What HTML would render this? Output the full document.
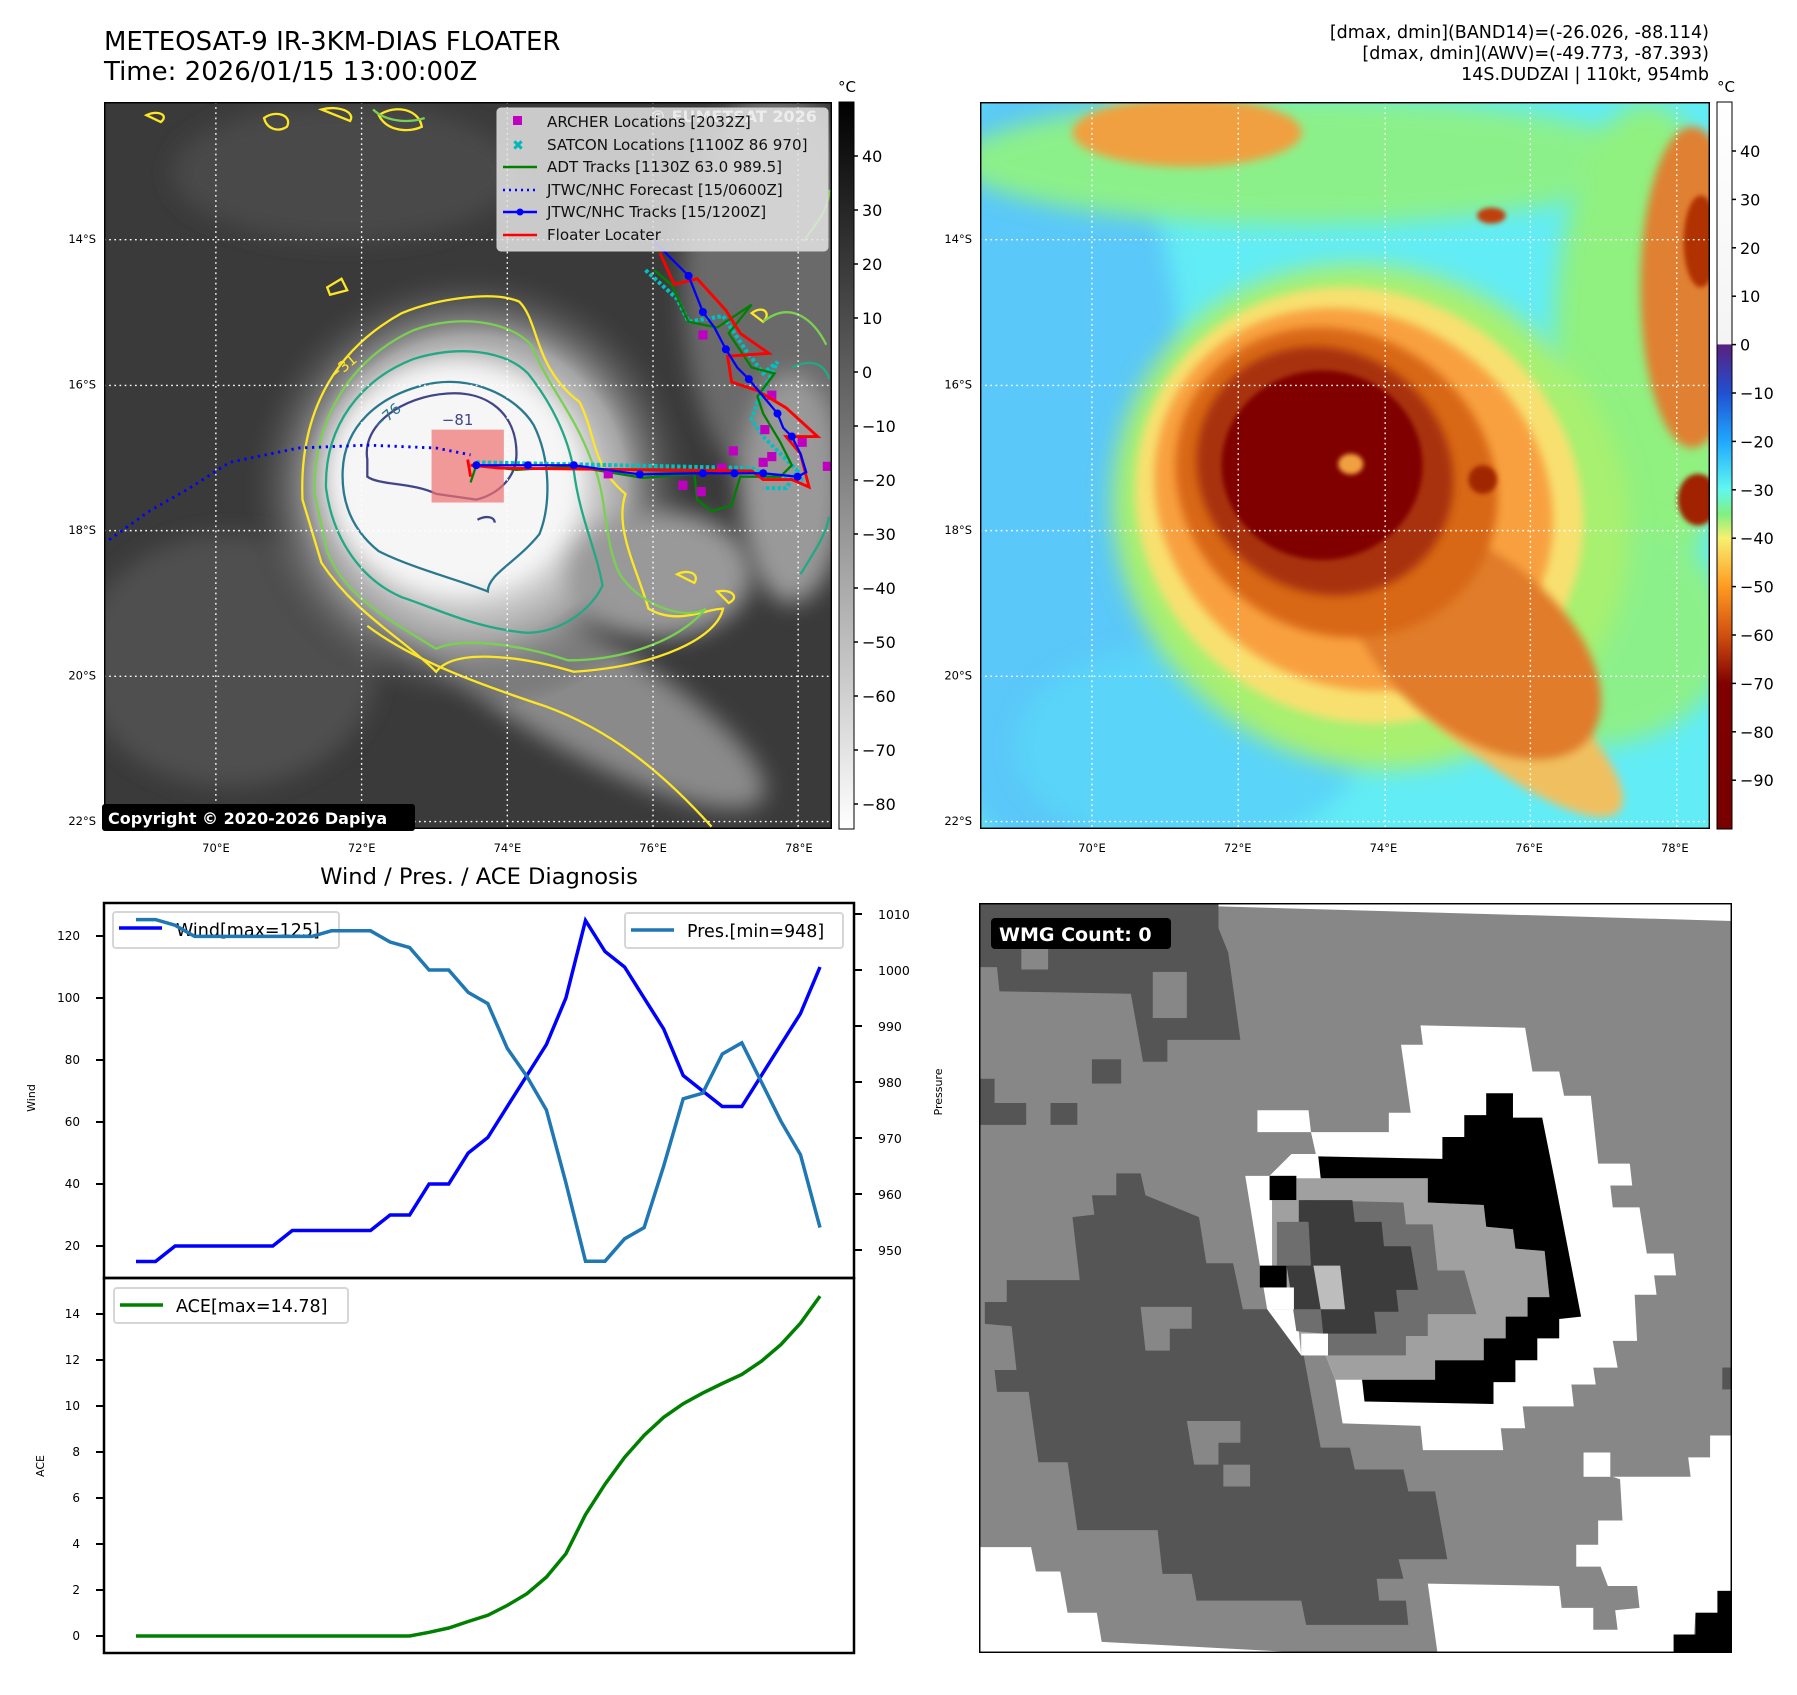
<!DOCTYPE html>
<html><head><meta charset="utf-8">
<style>
html,body{margin:0;padding:0;background:#fff;}
svg text{font-family:"DejaVu Sans","Liberation Sans",sans-serif;}
</style></head>
<body>
<svg id="page" width="1797" height="1690" viewBox="0 0 1797 1690" xmlns="http://www.w3.org/2000/svg">
<defs>
  <filter id="blur8" x="-30%" y="-30%" width="160%" height="160%"><feGaussianBlur stdDeviation="8"/></filter>
  <filter id="blur20" x="-30%" y="-30%" width="160%" height="160%"><feGaussianBlur stdDeviation="20"/></filter>
  <filter id="blur4" x="-30%" y="-30%" width="160%" height="160%"><feGaussianBlur stdDeviation="4"/></filter>
  <radialGradient id="cloudG" cx="0.5" cy="0.5" r="0.5">
    <stop offset="0" stop-color="#ffffff"/><stop offset="0.4" stop-color="#eeeeee"/>
    <stop offset="0.68" stop-color="#a5a5a5"/><stop offset="1" stop-color="#3c3c3c" stop-opacity="0"/>
  </radialGradient>
  <linearGradient id="cbGray" x1="0" y1="0" x2="0" y2="1">
    <stop offset="0" stop-color="#000"/><stop offset="1" stop-color="#fff"/>
  </linearGradient>
  <linearGradient id="cbColor" x1="0" y1="0" x2="0" y2="1">
    <stop offset="0" stop-color="#ffffff"/><stop offset="0.333" stop-color="#f4f4f4"/>
    <stop offset="0.334" stop-color="#5a2080"/><stop offset="0.40" stop-color="#2050d0"/>
    <stop offset="0.467" stop-color="#20a8ff"/><stop offset="0.533" stop-color="#60f8f0"/>
    <stop offset="0.567" stop-color="#80f080"/><stop offset="0.60" stop-color="#f8f070"/>
    <stop offset="0.667" stop-color="#ff9a20"/><stop offset="0.733" stop-color="#d05010"/>
    <stop offset="0.80" stop-color="#800000"/><stop offset="1" stop-color="#780000"/>
  </linearGradient>
  <clipPath id="clipL"><rect x="181" y="177" width="1269" height="1267"/></clipPath>
  <clipPath id="clipR"><rect x="139" y="177" width="1272" height="1267"/></clipPath>
</defs>

<!-- Titles -->
<text x="104" y="50" font-size="26">METEOSAT-9 IR-3KM-DIAS FLOATER</text>
<text x="104" y="80" font-size="26">Time: 2026/01/15 13:00:00Z</text>
<g font-size="17.5" text-anchor="end">
  <text x="1709" y="38">[dmax, dmin](BAND14)=(-26.026, -88.114)</text>
  <text x="1709" y="59">[dmax, dmin](AWV)=(-49.773, -87.393)</text>
  <text x="1709" y="80">14S.DUDZAI | 110kt, 954mb</text>
</g>

<!-- LEFT MAP -->
<svg x="104" y="102" width="728" height="727" viewBox="181 177 1269 1267" preserveAspectRatio="none">
  <g clip-path="url(#clipL)">
    <rect x="181" y="177" width="1269" height="1267" fill="#3a3a3a"/>
    <ellipse cx="1350" cy="500" rx="160" ry="350" fill="#6a6a6a" filter="url(#blur20)"/>
    <ellipse cx="600" cy="300" rx="300" ry="120" fill="#4a4a4a" filter="url(#blur20)"/>
    <ellipse cx="400" cy="1150" rx="260" ry="220" fill="#505050" filter="url(#blur20)"/>
    <ellipse cx="1000" cy="1200" rx="380" ry="100" transform="rotate(30 1000 1200)" fill="#8a8a8a" filter="url(#blur20)"/>
    <ellipse cx="820" cy="850" rx="400" ry="390" fill="url(#cloudG)"/>
    <ellipse cx="790" cy="830" rx="220" ry="200" fill="#f6f6f6" filter="url(#blur20)"/>
    <ellipse cx="1150" cy="1000" rx="160" ry="110" fill="#999" filter="url(#blur20)"/>
    <ellipse cx="1380" cy="850" rx="90" ry="200" fill="#999" filter="url(#blur20)"/>
    <g fill="none" stroke-width="4">
      <path stroke="#fde725" d="M527,870 C520,700 600,600 700,545 C760,520 860,505 905,525 C940,560 930,640 1010,700 C1040,760 1030,810 1090,860 C1070,920 1110,990 1130,1060 C1180,1090 1230,1060 1260,1060 C1250,1110 1150,1160 1000,1170 C900,1140 790,1130 760,1170 C700,1110 620,1070 560,980 Z"/>
      <path stroke="#fde725" d="M640,1090 C720,1150 830,1190 950,1230 C1060,1270 1150,1340 1240,1440"/>
      <path stroke="#fde725" d="M570,500 l25,-15 l10,20 l-30,8 Z M255,200 c20,-10 40,0 25,12 Z M460,205 c20,-15 50,-5 40,15 c-15,10 -35,5 -40,-15 Z M560,190 c30,-8 60,5 50,20 Z M660,200 c30,-20 70,-10 75,20 c-20,10 -60,10 -75,-20 Z M1180,1000 c20,-10 40,0 30,15 Z M1250,1030 c25,-5 40,10 20,20 Z M1310,545 c20,-15 35,0 20,15 Z"/>
      <path stroke="#7ad151" d="M548,860 C545,720 620,620 720,575 C800,545 890,560 925,600 C960,680 1000,720 1030,800 C1060,860 1050,940 1080,1000 C1120,1060 1200,1080 1230,1060 C1180,1120 1080,1150 990,1150 C900,1120 800,1110 760,1130 C680,1080 600,1040 570,960 Z"/>
      <path stroke="#7ad151" d="M1330,560 C1380,520 1420,560 1440,600 M1400,420 C1430,380 1445,360 1445,330 M650,190 c20,20 60,25 90,15"/>
      <path stroke="#22a884" d="M568,850 C565,740 630,660 720,625 C800,600 880,610 920,650 C960,700 990,760 1000,820 C1010,900 1040,960 1050,1020 C1020,1080 950,1110 900,1100 C820,1090 760,1060 700,1040 C630,1010 580,940 568,850 Z"/>
      <path stroke="#22a884" d="M1395,1000 C1420,960 1440,930 1445,900 M1380,640 C1420,620 1440,640 1445,660"/>
      <path stroke="#2a788e" d="M597,820 C600,740 660,690 740,670 C820,650 900,690 930,740 C960,800 960,880 940,930 C900,980 850,1000 850,1030 C800,1010 720,990 660,960 C610,920 595,870 597,820 Z"/>
      <path stroke="#414487" d="M640,800 C630,740 700,690 780,685 C850,680 900,720 900,790 C900,830 870,860 830,870 L760,860 C720,840 660,845 640,830 Z"/>
      <path stroke="#414487" d="M832,905 c15,-8 30,-5 30,5"/>
    </g>
    <g font-size="26" fill="#2a788e">
      <text x="650" y="745" transform="rotate(-40 660 735)">−76</text>
    </g>
    <text x="770" y="740" font-size="26" fill="#414487">−81</text>
    <text x="575" y="655" font-size="26" fill="#fde725" transform="rotate(-40 590 650)">−31</text>
    <g stroke="#fff" stroke-width="2.4" stroke-dasharray="3 6" fill="none">
      <line x1="376" y1="177" x2="376" y2="1444"/><line x1="630" y1="177" x2="630" y2="1444"/>
      <line x1="884" y1="177" x2="884" y2="1444"/><line x1="1138" y1="177" x2="1138" y2="1444"/>
      <line x1="1391" y1="177" x2="1391" y2="1444"/>
      <line x1="181" y1="417" x2="1450" y2="417"/><line x1="181" y1="671" x2="1450" y2="671"/>
      <line x1="181" y1="924" x2="1450" y2="924"/><line x1="181" y1="1178" x2="1450" y2="1178"/>
      <line x1="181" y1="1431" x2="1450" y2="1431"/>
    </g>
    <rect x="752" y="748" width="126" height="127" fill="#f07070" fill-opacity="0.7"/>
    <path d="M190,940 L260,890 L330,850 L400,805 L520,780 L640,775 L760,780 L820,792" fill="none" stroke="#0000ff" stroke-width="5" stroke-dasharray="4 8"/>
    <g fill="none" stroke="#00c0c0" stroke-width="7" stroke-dasharray="6 4">
      <path d="M830,805 L1310,815 L1340,830 L1400,835 M1125,470 L1180,520 L1200,560 L1260,550 L1300,610 L1330,650 L1355,630 L1320,700 L1310,730 L1330,760 L1360,790 L1390,820 L1370,850 L1330,850"/>
    </g>
    <path d="M820,840 L830,810 L900,818 L1000,812 L1120,832 L1210,825 L1215,870 L1240,890 L1275,880 L1290,830 L1360,830 L1380,810 L1360,770 L1330,720 L1320,690 L1350,650 L1310,640 L1270,580 L1310,530 L1250,570 L1200,560 L1170,495 L1140,470" fill="none" stroke="#008000" stroke-width="4"/>
    <g fill="#c000c0">
      <rect x="1217" y="575" width="16" height="16"/><rect x="1337" y="680" width="16" height="16"/>
      <rect x="1325" y="740" width="16" height="16"/><rect x="1270" y="777" width="16" height="16"/>
      <rect x="1250" y="807" width="16" height="16"/><rect x="1337" y="787" width="16" height="16"/>
      <rect x="1322" y="797" width="16" height="16"/><rect x="1052" y="817" width="16" height="16"/>
      <rect x="1182" y="837" width="16" height="16"/><rect x="1214" y="848" width="16" height="16"/>
      <rect x="1390" y="762" width="16" height="16"/><rect x="1434" y="804" width="16" height="16"/>
    </g>
    <path d="M815,800 L820,830 M820,810 L870,815 L1310,820 L1330,835 L1380,835 L1410,848 L1395,790 L1370,760 L1425,760 L1370,710 L1320,680 L1275,665 L1268,620 L1340,615 L1290,580 L1265,540 L1215,485 L1175,495 L1150,440" fill="none" stroke="#ff0000" stroke-width="5"/>
    <g>
      <path d="M830,810 L920,810 L1000,810 L1115,826 L1225,824 L1280,824 L1330,824 L1390,830 L1405,822 L1395,790 L1380,760 L1365,745 L1355,720 L1330,690 L1305,660 L1285,640 L1265,608 L1245,570 L1225,543 L1200,480 L1165,445 L1140,420" fill="none" stroke="#0000ff" stroke-width="4"/>
      <g fill="#0000ff">
        <circle cx="830" cy="810" r="7"/><circle cx="920" cy="810" r="7"/><circle cx="1000" cy="810" r="7"/>
        <circle cx="1115" cy="826" r="7"/><circle cx="1225" cy="824" r="7"/><circle cx="1280" cy="824" r="7"/>
        <circle cx="1330" cy="824" r="7"/><circle cx="1390" cy="830" r="7"/><circle cx="1380" cy="760" r="7"/>
        <circle cx="1355" cy="720" r="7"/><circle cx="1305" cy="660" r="7"/><circle cx="1265" cy="608" r="7"/>
        <circle cx="1225" cy="543" r="7"/><circle cx="1200" cy="480" r="7"/>
      </g>
    </g>
  </g>
  <rect x="181" y="177" width="1269" height="1267" fill="none" stroke="#000" stroke-width="5"/>
</svg>

<g>
  <rect x="497" y="108" width="331" height="143" rx="4" fill="#e4e4e4" fill-opacity="0.85" stroke="#d0d0d0"/>
  <text x="650" y="122" font-size="16" font-weight="bold" fill="#ffffff" fill-opacity="0.6">© EUMETSAT 2026</text>
  <rect x="513" y="116" width="9" height="9" fill="#c000c0"/>
  <text x="518" y="150" font-size="14" fill="#00b8b8" text-anchor="middle" font-weight="bold">✖</text>
  <line x1="503" y1="167" x2="537" y2="167" stroke="#008000" stroke-width="2.5"/>
  <line x1="503" y1="190" x2="537" y2="190" stroke="#0000ff" stroke-width="2.5" stroke-dasharray="2 4"/>
  <line x1="503" y1="212" x2="537" y2="212" stroke="#0000ff" stroke-width="2.5"/><circle cx="520" cy="212" r="3.5" fill="#0000ff"/>
  <line x1="503" y1="235" x2="537" y2="235" stroke="#ff0000" stroke-width="2.5"/>
  <g font-size="15.1" fill="#111">
    <text x="547" y="127">ARCHER Locations [2032Z]</text>
    <text x="547" y="150">SATCON Locations [1100Z 86 970]</text>
    <text x="547" y="172">ADT Tracks [1130Z 63.0 989.5]</text>
    <text x="547" y="195">JTWC/NHC Forecast [15/0600Z]</text>
    <text x="547" y="217">JTWC/NHC Tracks [15/1200Z]</text>
    <text x="547" y="240">Floater Locater</text>
  </g>
</g>
<g>
  <rect x="102" y="804" width="313" height="27" rx="3" fill="#000"/>
  <text x="108" y="824" font-size="16" font-weight="bold" fill="#fff">Copyright © 2020-2026 Dapiya</text>
</g>

<g>
  <rect x="839" y="102" width="15" height="727" fill="url(#cbGray)" stroke="#000" stroke-width="1"/>
  <text x="847" y="92" font-size="15" text-anchor="middle">°C</text>
  <g id="cbLticks" font-size="16"></g>
</g>

<svg x="980" y="102" width="730" height="727" viewBox="139 177 1272 1267" preserveAspectRatio="none">
  <g clip-path="url(#clipR)">
    <rect x="139" y="177" width="1272" height="1267" fill="#62ecf5"/>
    <ellipse cx="250" cy="800" rx="250" ry="700" fill="#5ac8f8" filter="url(#blur20)"/>
    <ellipse cx="500" cy="1300" rx="300" ry="180" fill="#5ad4f8" filter="url(#blur20)"/>
    <ellipse cx="700" cy="280" rx="600" ry="110" fill="#8cf08a" filter="url(#blur20)"/>
    <ellipse cx="1300" cy="600" rx="160" ry="420" fill="#90f080" filter="url(#blur20)"/>
    <ellipse cx="1200" cy="1100" rx="250" ry="200" fill="#8cf08a" filter="url(#blur20)"/>
    <ellipse cx="500" cy="230" rx="200" ry="60" fill="#f0a040" filter="url(#blur8)"/>
    <ellipse cx="1380" cy="500" rx="90" ry="280" fill="#e08030" filter="url(#blur8)"/>
    <ellipse cx="1390" cy="870" rx="35" ry="45" fill="#a02000" filter="url(#blur4)"/>
    <ellipse cx="1395" cy="420" rx="30" ry="80" fill="#b03000" filter="url(#blur4)"/>
    <ellipse cx="1030" cy="375" rx="25" ry="14" fill="#c04010" filter="url(#blur4)"/>
    <ellipse cx="820" cy="900" rx="460" ry="430" transform="rotate(35 820 900)" fill="#a8f070" filter="url(#blur20)"/>
    <ellipse cx="800" cy="880" rx="400" ry="370" transform="rotate(35 800 880)" fill="#f8e070" filter="url(#blur8)"/>
    <ellipse cx="1000" cy="1200" rx="330" ry="90" transform="rotate(40 1000 1200)" fill="#f0c060" filter="url(#blur8)"/>
    <ellipse cx="790" cy="870" rx="360" ry="320" transform="rotate(35 790 870)" fill="#f8a040" filter="url(#blur8)"/>
    <ellipse cx="1000" cy="1120" rx="260" ry="150" transform="rotate(40 1000 1120)" fill="#e07c2a" filter="url(#blur8)"/>
    <ellipse cx="760" cy="840" rx="290" ry="260" transform="rotate(35 760 840)" fill="#d86818" filter="url(#blur8)"/>
    <ellipse cx="740" cy="820" rx="230" ry="210" transform="rotate(35 740 820)" fill="#a83008" filter="url(#blur8)"/>
    <ellipse cx="735" cy="810" rx="175" ry="165" fill="#800000" filter="url(#blur4)"/>
    <ellipse cx="785" cy="808" rx="22" ry="18" fill="#f0a040" filter="url(#blur4)"/>
    <ellipse cx="1015" cy="835" rx="25" ry="25" fill="#a02800" filter="url(#blur4)"/>
    <g stroke="#fff" stroke-width="2.4" stroke-dasharray="3 6" fill="none">
      <line x1="334" y1="177" x2="334" y2="1444"/><line x1="589" y1="177" x2="589" y2="1444"/>
      <line x1="845" y1="177" x2="845" y2="1444"/><line x1="1098" y1="177" x2="1098" y2="1444"/>
      <line x1="1353" y1="177" x2="1353" y2="1444"/>
      <line x1="139" y1="417" x2="1411" y2="417"/><line x1="139" y1="671" x2="1411" y2="671"/>
      <line x1="139" y1="924" x2="1411" y2="924"/><line x1="139" y1="1178" x2="1411" y2="1178"/>
      <line x1="139" y1="1431" x2="1411" y2="1431"/>
    </g>
  </g>
  <rect x="139" y="177" width="1272" height="1267" fill="none" stroke="#000" stroke-width="5"/>
</svg>
<g>
  <rect x="1717" y="102" width="15" height="727" fill="url(#cbColor)" stroke="#000" stroke-width="1"/>
  <text x="1726" y="92" font-size="15" text-anchor="middle">°C</text>
  <g id="cbRticks" font-size="16"></g>
</g>

<g id="mapLabels" font-size="11.5" fill="#000"></g>

<svg x="979" y="903" width="753" height="750" viewBox="8 8 1547 1545" preserveAspectRatio="none">
  <rect x="8" y="8" width="1547" height="1545" fill="#878787"/>
  <polygon fill="#fff" points="280,8 1555,8 1555,45 500,15"/>
  <g fill="#555555">
    <polygon points="10,10 500,10 500,60 520,110 545,290 395,290 395,335 345,335 320,195 50,190 45,140 10,140"/>
    <rect x="240" y="330" width="60" height="50"/>
    <polygon points="10,370 40,370 40,420 105,420 105,465 10,465"/>
    <rect x="155" y="420" width="55" height="45"/>
    <polygon points="290,565 340,565 350,610 460,655 475,750 530,750 550,845 610,845 675,940 710,1130 770,1130 780,1175 880,1175 890,1220 945,1220 970,1360 870,1360 880,1400 825,1400 830,1445 885,1445 890,1495 680,1495 670,1445 455,1445 445,1390 385,1390 375,1300 210,1300 190,1160 130,1160 110,1015 45,1015 40,970 85,970 75,880 20,875 20,830 65,830 65,785 215,785 200,655 245,650 240,610 290,610"/>
    <rect x="1535" y="965" width="20" height="45"/>
  </g>
  <g fill="#878787">
    <rect x="95" y="100" width="55" height="45"/>
    <rect x="365" y="150" width="70" height="95"/>
    <polygon points="340,840 445,840 445,885 400,885 400,930 350,930"/>
    <polygon points="435,1075 545,1075 545,1120 500,1120 500,1165 450,1165"/>
    <rect x="510" y="1165" width="55" height="45"/>
  </g>
  <polygon fill="#fff" points="10,1335 115,1335 125,1385 175,1385 190,1470 250,1470 260,1530 690,1553 10,1553"/>
  <polygon fill="#fff" points="580,435 685,435 690,480 850,480 850,440 895,440 875,300 920,300 915,260 1130,265 1145,355 1200,355 1210,405 1265,405 1280,545 1345,545 1350,590 1305,590 1310,635 1365,635 1380,730 1435,730 1440,775 1395,775 1400,815 1355,815 1360,910 1310,910 1320,965 1270,965 1275,1000 1225,1000 1230,1045 1125,1045 1130,1090 1080,1090 1085,1135 920,1135 915,1085 755,1080 740,990 720,940 670,940 600,845 585,755 555,570 605,570 650,525 700,525 690,480 580,480"/>
  <polygon fill="#a0a0a0" points="660,575 930,575 930,625 1045,630 1050,675 1105,680 1110,720 1170,725 1180,820 1135,820 1135,860 1090,860 1090,905 1045,905 1045,950 945,950 945,990 740,990 720,940 670,940 660,845 610,845 610,620 660,620"/>
  <polygon fill="#000" points="705,530 960,535 960,490 1005,490 1005,445 1050,445 1050,400 1105,400 1105,450 1165,450 1190,575 1245,860 1200,865 1200,905 1155,905 1155,950 1110,950 1110,995 1065,995 1065,1040 800,1035 795,990 945,990 945,950 1045,950 1045,905 1090,905 1090,860 1135,860 1135,820 1180,820 1170,725 1110,720 1105,680 1050,675 1045,630 930,625 930,575 710,575"/>
  <rect x="605" y="570" width="55" height="50" fill="#000"/>
  <rect x="585" y="755" width="55" height="45" fill="#000"/>
  <polygon fill="#6e6e6e" points="620,665 680,665 680,620 880,625 885,670 940,670 950,765 1005,765 1030,855 930,855 930,900 885,900 885,940 725,940 715,895 660,890 640,755 620,755"/>
  <polygon fill="#3c3c3c" points="665,620 775,620 780,665 835,665 840,715 895,715 910,805 865,805 870,850 820,850 825,895 715,895 710,845 655,845 640,755 690,755 685,665 665,665"/>
  <polygon fill="#bdbdbd" points="695,755 750,755 760,845 710,845"/>
  <rect x="600" y="800" width="55" height="45" fill="#fff"/>
  <rect x="670" y="895" width="55" height="45" fill="#fff"/>
  <polygon fill="#fff" points="1510,1105 1555,1105 1555,1425 1525,1425 1530,1470 1480,1470 1475,1553 950,1553 930,1410 1200,1415 1205,1460 1270,1460 1270,1505 1320,1505 1315,1465 1365,1460 1360,1415 1300,1415 1285,1375 1235,1375 1235,1330 1280,1330 1280,1280 1330,1280 1325,1195 1310,1190 1470,1190 1465,1150 1510,1150"/>
  <rect x="1250" y="1140" width="55" height="50" fill="#fff"/>
  <polygon fill="#000" points="1525,1425 1555,1425 1555,1555 1435,1555 1435,1515 1480,1515 1480,1470 1525,1470"/>
  <rect x="8" y="8" width="1547" height="1545" fill="none" stroke="#000" stroke-width="6"/>
</svg>
<g>
  <rect x="991" y="918" width="180" height="31" rx="4" fill="#000"/>
  <text x="999" y="941" font-size="19" font-weight="bold" fill="#fff">WMG Count: 0</text>
</g>

<text x="479" y="884" font-size="22.6" text-anchor="middle">Wind / Pres. / ACE Diagnosis</text>
<g id="chart"></g>

<script>
const wind = [15,15,20,20,20,20,20,20,25,25,25,25,25,30,30,40,40,50,55,65,75,85,100,125,115,110,100,90,75,70,65,65,75,85,95,110];
const pres = [1009,1009,1008,1006,1006,1006,1006,1006,1006,1006,1007,1007,1007,1005,1004,1000,1000,996,994,986,981,975,962,948,948,952,954,965,977,978,985,987,980,973,967,954];
const ace = [0,0,0,0,0,0,0,0,0,0,0,0,0,0,0,0.16,0.35,0.63,0.9,1.33,1.84,2.56,3.58,5.28,6.6,7.77,8.72,9.51,10.1,10.56,10.98,11.37,11.95,12.67,13.6,14.78];
const windTicks = [20,40,60,80,100,120];
const presTicks = [950,960,970,980,990,1000,1010];
const aceTicks = [0,2,4,6,8,10,12,14];
const cbLTicks = [40,30,20,10,0,-10,-20,-30,-40,-50,-60,-70,-80];
const cbRTicks = [40,30,20,10,0,-10,-20,-30,-40,-50,-60,-70,-80,-90];
const latLabels = ["14°S","16°S","18°S","20°S","22°S"];
const latVals = [14,16,18,20,22];
const lonLabels = ["70°E","72°E","74°E","76°E","78°E"];
const lonVals = [70,72,74,76,78];

const NS = "http://www.w3.org/2000/svg";
function mk(tag, attrs, parent){ const e=document.createElementNS(NS,tag); for(const k in attrs) e.setAttribute(k,attrs[k]); parent.appendChild(e); return e; }
function fmt(v){ return v<0 ? "\u2212"+Math.abs(v) : String(v); }

const xIdx = i => 136 + i*(684/35);
const yWind = v => 936 + (120-v)*3.1;
const yPres = v => 914 + (1010-v)*5.6;
const yAce = v => 1636 - v*23;
const lonX = l => 216 + (l-70)*72.85;
const latY = l => 239 + (l-14)*72.75;
const cbL = v => 156 + (40-v)*5.4;
const cbR = v => 151 + (40-v)*4.84;

const chart = document.getElementById('chart');
mk('rect',{x:104,y:903,width:750,height:375,fill:'none',stroke:'#000','stroke-width':2.5},chart);
mk('rect',{x:104,y:1278,width:750,height:375,fill:'none',stroke:'#000','stroke-width':2.5},chart);

windTicks.forEach(v=>{
  const y=yWind(v);
  const t=mk('line',{x1:96,y1:y,x2:104,y2:y,stroke:'#000','stroke-width':2},chart);
  
  
  const l=mk('text',{x:80,y:y+4,'font-size':12,'text-anchor':'end'},chart); l.textContent=v;
  
  
});
presTicks.forEach(v=>{
  const y=yPres(v);
  const t=mk('line',{x1:854,y1:y,x2:862,y2:y,stroke:'#000','stroke-width':2},chart);
  
  
  const l=mk('text',{x:878,y:y+5,'font-size':12.5},chart); l.textContent=v;
  
  
});
aceTicks.forEach(v=>{
  const y=yAce(v);
  const t=mk('line',{x1:96,y1:y,x2:104,y2:y,stroke:'#000','stroke-width':2},chart);
  
  
  const l=mk('text',{x:80,y:y+4,'font-size':12,'text-anchor':'end'},chart); l.textContent=v;
  
  
});
let yl=mk('text',{x:0,y:0,'font-size':11,'text-anchor':'middle',transform:'translate(35,1098) rotate(-90)'},chart); yl.textContent='Wind';


yl=mk('text',{x:0,y:0,'font-size':11,'text-anchor':'middle',transform:'translate(44,1466) rotate(-90)'},chart); yl.textContent='ACE';


yl=mk('text',{x:0,y:0,'font-size':11,'text-anchor':'middle',transform:'translate(942,1092) rotate(-90)'},chart); yl.textContent='Pressure';



function line(arr, yf, color, name){
  const d = arr.map((v,i)=>(i?'L':'M')+xIdx(i).toFixed(1)+','+yf(v).toFixed(1)).join(' ');
  const p = mk('path',{d:d,fill:'none',stroke:color,'stroke-width':3.5,'stroke-linejoin':'miter'},chart);
  
  
}
line(wind, yWind, '#0000ff', 'wind-line');
line(pres, yPres, '#1f77b4', 'pressure-line');
line(ace, yAce, '#008000', 'ace-line');

function legend(x,y,w,color,label,name){
  const g=mk('g',{},chart);
  
  
  mk('rect',{x:x,y:y,width:w,height:35,rx:3,fill:'#fff','fill-opacity':0.8,stroke:'#d6d6d6','stroke-width':2},g);
  mk('line',{x1:x+6,y1:y+17,x2:x+49,y2:y+17,stroke:color,'stroke-width':3.5},g);
  const t=mk('text',{x:x+62,y:y+24,'font-size':17.5},g); t.textContent=label;
}
legend(625,913,218,'#1f77b4','Pres.[min=948]','pressure-legend');
legend(114,1288,234,'#008000','ACE[max=14.78]','ace-legend');
(function(){
  const g=mk('g',{},chart);
  
  
  chart.insertBefore(g, chart.querySelector('path'));
  mk('rect',{x:113,y:912,width:226,height:36,rx:3,fill:'#fff','fill-opacity':0.8,stroke:'#d6d6d6','stroke-width':2},g);
  mk('line',{x1:119,y1:928,x2:162,y2:928,stroke:'#0000ff','stroke-width':3.5},g);
  const t=mk('text',{x:176,y:936,'font-size':17.5},g); t.textContent='Wind[max=125]';
})();

const gL=document.getElementById('cbLticks');
cbLTicks.forEach(v=>{
  const y=cbL(v);
  mk('line',{x1:854,y1:y,x2:858,y2:y,stroke:'#000','stroke-width':1.5},gL);
  const t=mk('text',{x:862,y:y+6},gL); t.textContent=fmt(v);
  
  
});
const gR=document.getElementById('cbRticks');
cbRTicks.forEach(v=>{
  const y=cbR(v);
  mk('line',{x1:1732,y1:y,x2:1736,y2:y,stroke:'#000','stroke-width':1.5},gR);
  const t=mk('text',{x:1740,y:y+6},gR); t.textContent=fmt(v);
  
  
});
const ml=document.getElementById('mapLabels');
[0,876].forEach(off=>{
  latVals.forEach((l,i)=>{
    const t=mk('text',{x:96+off,y:latY(l)+4,'text-anchor':'end'},ml); t.textContent=latLabels[i];
    
    
  });
  lonVals.forEach((l,i)=>{
    const t=mk('text',{x:lonX(l)+off,y:852,'text-anchor':'middle'},ml); t.textContent=lonLabels[i];
    
    
  });
});
</script>
</body></html>
